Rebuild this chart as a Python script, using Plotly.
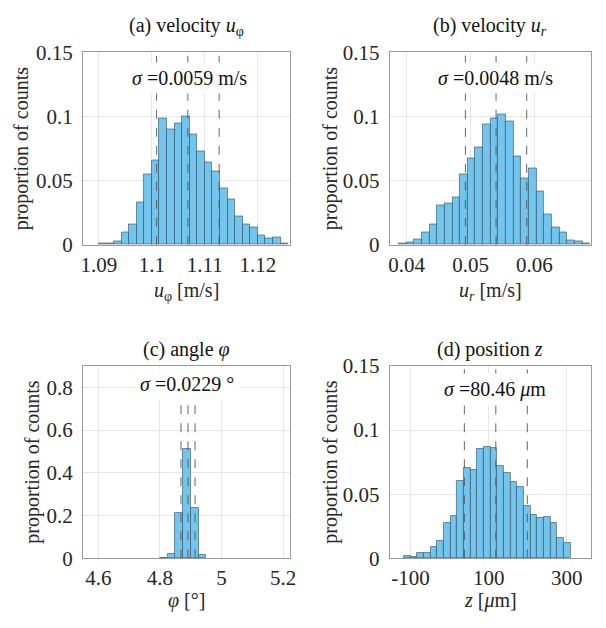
import plotly.graph_objects as go

W, H = 606, 628
FONT = "Liberation Serif"
FS = 20
TFS = 21

# ---- data (proportion of counts per bin) ----
a_start, a_width = 1.0900, 0.001428
a_vals = [0.001, 0.0013, 0.0023, 0.0095, 0.016, 0.0327, 0.0548, 0.0658, 0.0985, 0.090,
          0.0947, 0.1003, 0.0862, 0.0726, 0.0643, 0.0575, 0.044, 0.035, 0.0219, 0.0158,
          0.0136, 0.0073, 0.005, 0.0055, 0.0008]
a_mean, a_sigma = 1.1068, 0.0059

b_start, b_width = 0.03876, 0.0011985
b_vals = [0.001, 0.0018, 0.0043, 0.010, 0.0156, 0.0309, 0.0319, 0.0369, 0.0548, 0.0673,
          0.0759, 0.094, 0.0985, 0.1015, 0.0962, 0.0688, 0.052, 0.0598, 0.042, 0.0236,
          0.0133, 0.010, 0.0035, 0.0028, 0.0008]
b_mean, b_sigma = 0.0540, 0.0048

c_start, c_width = 4.800, 0.025
c_vals = [0.002, 0.021, 0.212, 0.514, 0.236, 0.018]
c_mean, c_sigma = 4.891, 0.0229

d_start, d_width = -116.8, 17.03
d_vals = [0.0017, 0.0012, 0.0042, 0.0042, 0.0087, 0.0134, 0.0277, 0.0332, 0.0601, 0.0705,
          0.0688, 0.0856, 0.0866, 0.0864, 0.072, 0.0666, 0.0594, 0.0559, 0.0406, 0.0339,
          0.0312, 0.0324, 0.0277, 0.0161, 0.0116]
d_mean, d_sigma = 118.3, 80.46

titles = ["(a) velocity <i>u</i><sub>φ</sub>", "(b) velocity <i>u<sub>r</sub></i>",
          "(c) angle <i>φ</i>", "(d) position <i>z</i>"]
xlabels = ["<i>u</i><sub>φ</sub> [m/s]", "<i>u<sub>r</sub></i> [m/s]",
           "<i>φ</i> [°]", "<i>z</i> [<i>μ</i>m]"]
sigma_texts = ["<i>σ</i> =0.0059 m/s", "<i>σ</i> =0.0048 m/s",
               "<i>σ</i> =0.0229 °", "<i>σ</i> =80.46 <i>μ</i>m"]
ylabel = "proportion of counts"

x_ticks = [[1.09, 1.10, 1.11, 1.12], [0.04, 0.05, 0.06], [4.6, 4.8, 5.0, 5.2], [-100, 100, 300]]
x_ticktext = [["1.09", "1.1", "1.11", "1.12"], ["0.04", "0.05", "0.06"],
              ["4.6", "4.8", "5", "5.2"], ["-100", "100", "300"]]
y_ticks = [[0, 0.05, 0.1, 0.15], [0, 0.05, 0.1, 0.15], [0, 0.2, 0.4, 0.6, 0.8], [0, 0.05, 0.1, 0.15]]
y_ticktext = [["0", "0.05", "0.1", "0.15"], ["0", "0.05", "0.1", "0.15"],
              ["0", "0.2", "0.4", "0.6", "0.8"], ["0", "0.05", "0.1", "0.15"]]
x_ranges = [[1.087, 1.1261], [0.03736, 0.06889], [4.550, 5.2224], [-152.8, 362.0]]
y_ranges = [[0, 0.15], [0, 0.15], [0, 0.9], [0, 0.15]]

# ---- layout geometry (pixels) ----
boxes = [(82, 292, 42, 242), (393, 597, 42, 242), (82, 292, 368, 568), (393, 597, 368, 568)]
title_pos = [(187, 15), (495, 15), (187, 351), (495, 351)]
xlab_pos = [(187, 291), (495, 291), (187, 612), (495, 612)]
ylab_pos = [(20, 142), (333, 142), (31, 468), (333, 468)]
sigma_pos = [(190, 69), (500, 69), (187, 387), (500, 393)]

def px(x):
    return x / W

def py(y):
    return 1 - y / H

datasets = [(a_start, a_width, a_vals, a_mean, a_sigma),
            (b_start, b_width, b_vals, b_mean, b_sigma),
            (c_start, c_width, c_vals, c_mean, c_sigma),
            (d_start, d_width, d_vals, d_mean, d_sigma)]

fig = go.Figure()
shapes = []
annotations = []
BAR_FILL = "rgba(108,194,236,0.95)"
BAR_EDGE = "rgba(45,75,95,0.75)"

for i, (start, width, vals, mean, sig) in enumerate(datasets):
    n = i + 1
    xa = "x" if n == 1 else f"x{n}"
    ya = "y" if n == 1 else f"y{n}"
    centers = [start + (k + 0.5) * width for k in range(len(vals))]
    fig.add_trace(go.Bar(x=centers, y=vals, width=width, xaxis=xa, yaxis=ya,
                         marker=dict(color=BAR_FILL, line=dict(color=BAR_EDGE, width=0.8)),
                         showlegend=False, hoverinfo="skip"))
    x0, x1, y0, y1 = boxes[i]
    axcommon = dict(showgrid=True, gridcolor="#e6e6e6", gridwidth=1, zeroline=False,
                    showline=True, mirror=True, linecolor="#9a9a9a", linewidth=1,
                    ticks="", tickfont=dict(family=FONT, size=TFS, color="#262626"))
    fig.layout[f"xaxis{'' if n == 1 else n}"] = dict(
        axcommon, domain=[px(x0), px(x1)], anchor=ya, range=x_ranges[i],
        tickmode="array", tickvals=x_ticks[i], ticktext=x_ticktext[i], ticklabelstandoff=1)
    fig.layout[f"yaxis{'' if n == 1 else n}"] = dict(
        axcommon, domain=[py(y1), py(y0)], anchor=xa, range=y_ranges[i],
        tickmode="array", tickvals=y_ticks[i], ticktext=y_ticktext[i], ticklabelstandoff=5)
    for v in (mean - sig, mean, mean + sig):
        shapes.append(dict(type="line", xref=xa, yref=f"{ya} domain", x0=v, x1=v, y0=0, y1=1,
                           line=dict(color="#555555", width=0.9, dash="dash"), layer="above"))
    tx, ty = title_pos[i]
    annotations.append(dict(text=titles[i], x=px(tx), y=py(ty), xref="paper", yref="paper",
                            showarrow=False, xanchor="center", yanchor="middle",
                            font=dict(family=FONT, size=FS, color="#111")))
    lx, ly = xlab_pos[i]
    annotations.append(dict(text=xlabels[i], x=px(lx), y=py(ly), xref="paper", yref="paper",
                            showarrow=False, xanchor="center", yanchor="middle",
                            font=dict(family=FONT, size=FS, color="#262626")))
    yx, yy = ylab_pos[i]
    annotations.append(dict(text=ylabel, x=px(yx), y=py(yy), xref="paper", yref="paper",
                            showarrow=False, textangle=-90, xanchor="center", yanchor="middle",
                            font=dict(family=FONT, size=FS, color="#262626")))
    sx, sy = sigma_pos[i]
    annotations.append(dict(text=sigma_texts[i], x=px(sx), y=py(sy), xref="paper", yref="paper",
                            showarrow=False, xanchor="center", yanchor="middle",
                            bgcolor="white", borderpad=4,
                            font=dict(family=FONT, size=FS, color="#111")))

fig.update_layout(width=W, height=H, margin=dict(l=0, r=0, t=0, b=0),
                  paper_bgcolor="white", plot_bgcolor="white", bargap=0,
                  shapes=shapes, annotations=annotations)
fig.write_html("out.html")
